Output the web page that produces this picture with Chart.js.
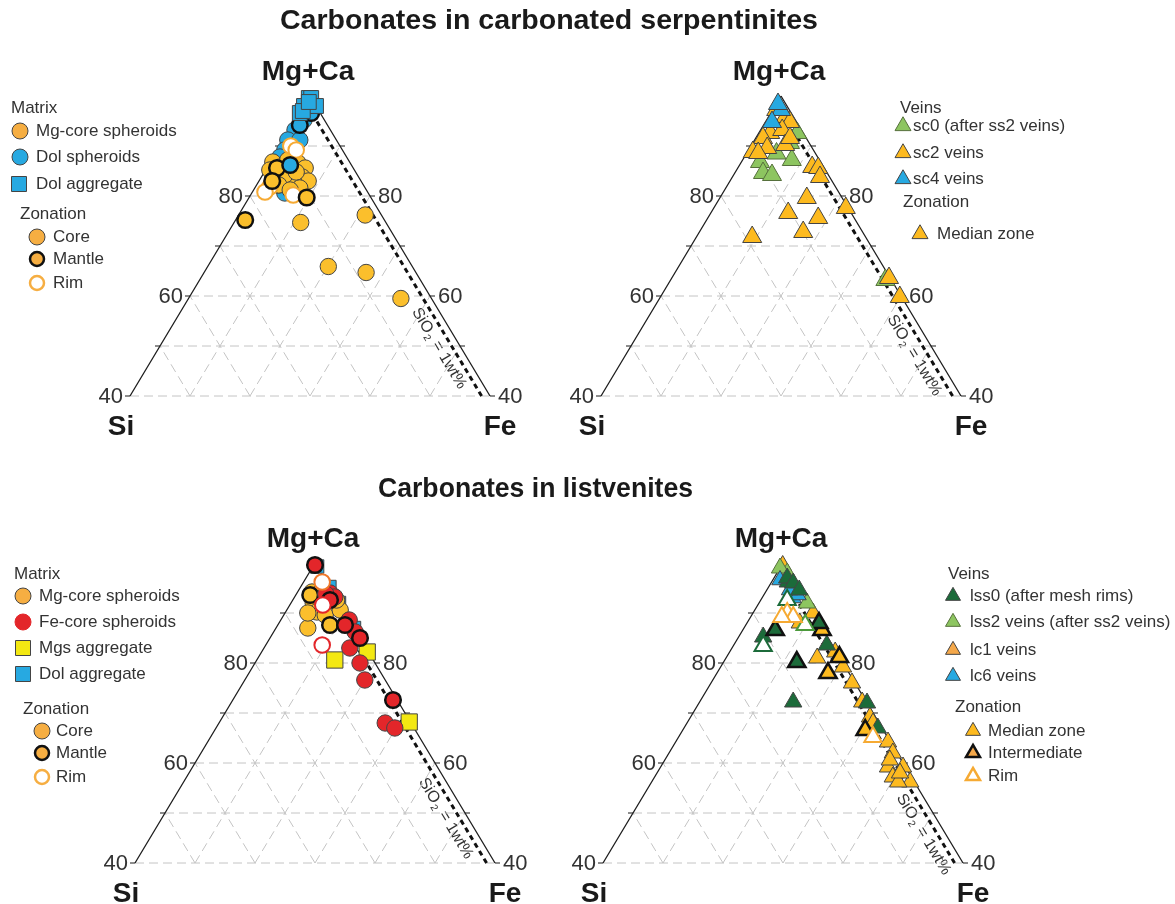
<!DOCTYPE html>
<html><head><meta charset="utf-8">
<script src="https://cdn.jsdelivr.net/npm/chart.js@4.4.1/dist/chart.umd.min.js"></script>
<style>
html,body{margin:0;padding:0;background:#fff;}
#wrap{position:relative;width:1175px;height:904px;overflow:hidden;background:#fff}
canvas{position:absolute;left:0;top:0;pointer-events:none}
</style>
</head><body>
<div id="wrap">
<canvas id="c0" width="1175" height="904"></canvas>
<canvas id="c1" width="1175" height="904"></canvas>
<canvas id="c2" width="1175" height="904"></canvas>
<canvas id="c3" width="1175" height="904"></canvas>
</div>
<script>
// ================= DATA : each point = [Mg+Ca, Si, Fe] (%) =================
const gridMgCa = [40, 50, 60, 70, 80, 90];
const gridSiFe = [10, 20, 30, 40, 50];
const tickValues = [40, 50, 60, 70, 80, 90];
const tickLabelValues = [40, 60, 80];
const sio2Si = 1.4;                 // SiO2 = 1 wt% reference line (Si share)
const titles = ['Carbonates in carbonated serpentinites', 'Carbonates in listvenites'];

// --- carbonated serpentinites : matrix ---
const serpMgCoreCore = [[86.8,12.8,0.4],[85.8,12.1,2.1],[86.6,8.7,4.7],[85.6,8.0,6.4],[83.8,9.4,6.8],[83.0,8.8,8.2],[83.2,11.2,5.6],[84.2,12.1,3.7],[85.2,14.1,0.7],[83.2,14.6,2.2],[87.2,10.1,2.7],[84.8,9.9,5.3],[82.2,14.1,3.7],[81.6,10.9,7.5],[81.2,12.7,6.1],[74.7,14.2,11.1],[76.2,2.7,21.1],[65.9,14.0,20.1],[64.7,8.3,27.0],[59.5,5.1,35.4]];
const serpMgCoreMantle = [[85.6,12.7,1.7],[83.0,14.8,2.2],[79.7,10.7,9.6],[75.2,23.2,1.6]];
const serpMgCoreRim = [[81.8,15.8,2.4],[80.8,17.1,2.1],[80.2,12.7,7.1],[90.0,8.2,1.8],[89.2,7.7,3.1]];
const serpDolSphCore = [[93.2,5.9,0.9],[91.2,8.1,0.7],[89.2,9.6,1.2],[87.8,11.1,1.1],[91.2,6.1,2.7],[95.2,3.4,1.4],[80.6,13.9,5.5],[82.2,14.2,3.6]];
const serpDolSphMantle = [[96.6,1.5,1.9],[94.2,4.6,1.2],[86.2,10.2,3.6]];
const serpDolAggregate = [[99.6,0.4,0],[99.6,0,0.4],[98,2,0],[98,0,2],[96.6,3.4,0],[97,2.7,0.3],[98.8,0.8,0.4]];

// --- carbonated serpentinites : veins ---
const serpSc0 = [[86.8,10.1,3.1],[84.6,10.7,4.7],[84.2,9.4,6.4],[87.2,4.6,8.2],[90.6,3.2,6.2],[92.6,1.0,6.4],[63.2,1.0,35.8],[88.5,6.5,5.0]];
const serpSc2 = [[95.8,1.4,2.8],[94.8,1.1,4.1],[92.6,5.5,1.9],[91.6,7.2,1.2],[93.2,3.2,3.6],[90.2,4.2,5.6],[89.6,7.5,2.9],[88.8,10.3,0.9],[88.6,9.5,1.9],[91.6,2.7,5.7],[85.8,1.9,12.3],[85.6,1.0,13.4],[83.8,1.6,14.6],[79.6,5.9,14.5],[76.6,10.5,12.9],[75.6,6.0,18.4],[72.8,9.9,17.3],[71.8,18.9,9.3],[77.6,0.4,22.0],[63.6,0.2,36.2],[59.8,0.3,39.9],[97.2,2.2,0.6]];
const serpSc4 = [[97.2,1.4,1.4],[94.8,4.1,1.1],[98.4,1.3,0.3]];

// --- listvenites : matrix ---
const listMgCoreCore = [[87.0,7.7,5.3],[94.2,3.4,2.4],[92.0,4.3,3.7],[90.2,4.6,5.2],[89.6,3.5,6.9],[90.6,0.5,8.9],[92.6,0.1,7.3],[90.0,6.2,3.8],[94.0,2.2,3.8]];
const listMgCoreMantle = [[93.6,4.0,2.4],[87.6,3.7,8.7],[93.2,1.4,5.4]];
const listMgCoreRim = [[96.2,0.7,3.1]];
const listFeCoreCore = [[94.0,0.5,5.5],[93.2,0.1,6.7],[88.6,0,11.4],[86.2,0.2,13.6],[83.0,2.7,14.3],[80.0,2.5,17.5],[76.6,3.4,20.0],[68.0,4.3,27.7],[67.0,3.2,29.8],[93.8,1.3,4.9]];
const listFeCoreMantle = [[99.6,0.2,0.2],[87.6,1.2,11.2],[85.0,0,15.0],[72.6,0.7,26.7],[92.6,1.2,6.2]];
const listFeCoreRim = [[83.6,7.0,9.4],[91.6,2.9,5.5]];
const listMgsAggregate = [[80.6,6.4,13.0],[82.2,0.2,17.6],[68.2,0.2,31.6]];
const listDolAggregate = [[99.3,0,0.7],[95.2,0,4.8],[92,0,8],[87,0,13]];

// --- listvenites : veins ---
const listLss0Core = [[96.2,1.1,2.7],[72.2,12.2,15.6],[83.6,0.9,15.5],[72.0,0,28.0],[67.0,0.7,32.3],[97.0,0.8,2.2],[85.2,10.7,4.1],[96.0,0.3,3.7],[94.6,0,5.4]];
const listLss0Mantle = [[86.6,8.0,5.4],[80.2,7.6,12.2],[88.0,0,12.0]];
const listLss0Rim = [[83.4,11.6,5.0],[92.6,3.0,4.4]];
const listLss2Core = [[98.0,0.3,1.7],[92.0,0,8.0],[99.0,1.0,0]];
const listLss2Rim = [[87.6,2.5,9.9]];
const listLc6 = [[93.0,1.8,5.2],[93.6,0.7,5.7],[96.6,2.2,1.2],[94.6,1.6,3.8]];
const listLc1Median = [[81.0,3.8,15.2],[82.2,0.2,17.6],[79.2,0.4,20.4],[76.0,0.5,23.5],[72.2,0.7,27.1],[69.2,0.9,29.9],[64.2,0.4,35.4],[62.0,0.7,37.3],[59.2,0.4,40.4],[59.2,2.9,37.9],[57.2,3.1,39.7],[56.2,0.7,43.1],[56.2,2.7,41.1],[68.0,1.0,31.0],[88.0,3.2,8.8],[90.0,0,10.0],[60.6,1.9,37.5],[58.0,1.5,40.5],[99.5,0.3,0.2]];
const listLc1Intermediate = [[78.0,3.5,18.5],[66.6,3.0,30.4],[81.2,0,18.8],[86.6,0.2,13.2]];
const listLc1Rim = [[90.0,4.3,5.7],[89.2,3.7,7.1],[89.2,5.6,5.2],[65.2,2.4,32.4]];

// ================= STYLE =================
const FONT = '"Liberation Sans", Arial, Helvetica, sans-serif';
const TXT = '#333333';
const YEL = '#FBBF2C', LEGY = '#F6AE42', RIMC = '#F6AA33';
const BLUE = '#27A9E1', RED = '#E3262A', LEMON = '#F3E812';
const DKG = '#1C6B3A', LTG = '#8DC560', GOLD = '#FDBA1F', ORNG = '#F5A84A';
const THIN = '#444444', BLK = '#111111';

function toXY(p) { const t = p[0] + p[1] + p[2]; return { x: (p[2] - p[1]) * 100 / t, y: p[0] * 100 / t }; }

function markers(pts, shape, r, fill, stroke, lw, order) {
  return { data: pts.map(toXY), showLine: false, pointStyle: shape, pointRadius: r, pointHoverRadius: r,
    backgroundColor: fill, borderColor: stroke, pointBackgroundColor: fill, pointBorderColor: stroke,
    borderWidth: lw, pointBorderWidth: lw, pointHoverBorderWidth: lw, order: order, clip: false };
}
function line(pts, color, width, dash, order) {
  return { data: pts.map(toXY), showLine: true, pointRadius: 0, pointHoverRadius: 0, borderColor: color,
    borderWidth: width, borderDash: dash, fill: false, tension: 0, order: order, clip: false };
}
function frame() {
  const ds = [];
  gridMgCa.forEach(k => ds.push(line([[k, 100 - k, 0], [k, 0, 100 - k]], '#c4c4c4', 1, [9, 5], 1000)));
  gridSiFe.forEach(k => {
    ds.push(line([[40, 60 - k, k], [100 - k, 0, k]], '#c4c4c4', 1, [9, 5], 1000));
    ds.push(line([[40, k, 60 - k], [100 - k, k, 0]], '#c4c4c4', 1, [9, 5], 1000));
  });
  ds.push(line([[40, 60, 0], [100, 0, 0]], '#1a1a1a', 1.3, [], 900));
  ds.push(line([[40, 0, 60], [100, 0, 0]], '#1a1a1a', 1.3, [], 900));
  ds.push(line([[40, sio2Si, 60 - sio2Si], [96, sio2Si, 4 - sio2Si]], '#111', 3, [5, 4], 800));
  return ds;
}

function drawMarker(ctx, shape, x, y, s, fill, stroke, lw) {
  ctx.save(); ctx.beginPath();
  if (shape === 'circle') ctx.arc(x, y, s / 2, 0, Math.PI * 2);
  else if (shape === 'square') ctx.rect(x - s / 2, y - s / 2, s, s);
  else { const h = s / Math.sqrt(3); ctx.moveTo(x, y - h); ctx.lineTo(x + s / 2, y + h / 2); ctx.lineTo(x - s / 2, y + h / 2); ctx.closePath(); }
  ctx.fillStyle = fill; ctx.fill(); ctx.lineWidth = lw; ctx.strokeStyle = stroke; ctx.lineJoin = 'miter'; ctx.stroke();
  ctx.restore();
}

function fitTitle(ctx, text, cx, cy, width, size) {
  ctx.save(); ctx.font = 'bold ' + size + 'px ' + FONT;
  const w = ctx.measureText(text).width;
  ctx.translate(cx, cy); ctx.scale(width / w, 1);
  ctx.fillStyle = '#1a1a1a'; ctx.textAlign = 'center'; ctx.textBaseline = 'middle';
  ctx.fillText(text, 0, 0); ctx.restore();
}

const ternaryPlugin = {
  id: 'ternary',
  beforeDatasetsDraw(chart, args, o) {
    const ctx = chart.ctx, xs = chart.scales.x, ys = chart.scales.y;
    const P = p => { const q = toXY(p); return [xs.getPixelForValue(q.x), ys.getPixelForValue(q.y)]; };
    ctx.save();
    ctx.strokeStyle = '#1a1a1a'; ctx.lineWidth = 1;
    tickValues.forEach(v => {
      const l = P([v, 100 - v, 0]), r = P([v, 0, 100 - v]);
      ctx.beginPath(); ctx.moveTo(l[0] - 5, l[1]); ctx.lineTo(l[0], l[1]); ctx.stroke();
      ctx.beginPath(); ctx.moveTo(r[0], r[1]); ctx.lineTo(r[0] + 5, r[1]); ctx.stroke();
    });
    ctx.fillStyle = TXT; ctx.font = '22px ' + FONT; ctx.textBaseline = 'middle';
    tickLabelValues.forEach(v => {
      const l = P([v, 100 - v, 0]), r = P([v, 0, 100 - v]);
      ctx.textAlign = 'right'; ctx.fillText(String(v), l[0] - 7, l[1] + 1);
      ctx.textAlign = 'left'; ctx.fillText(String(v), r[0] + 8, r[1] + 1);
    });
    const apex = P([100, 0, 0]), bl = P([40, 60, 0]), br = P([40, 0, 60]);
    ctx.fillStyle = '#1a1a1a'; ctx.font = 'bold 28px ' + FONT; ctx.textBaseline = 'alphabetic'; ctx.textAlign = 'center';
    ctx.fillText('Mg+Ca', apex[0] - 2, apex[1] - 16);
    ctx.fillText('Si', bl[0] - 9, bl[1] + 39);
    ctx.fillText('Fe', br[0] + 10, br[1] + 39);
    const s = P([o.sio2A, sio2Si, 100 - o.sio2A - sio2Si]), e = P([40, sio2Si, 60 - sio2Si]);
    const ang = Math.atan2(e[1] - s[1], e[0] - s[0]);
    ctx.translate(s[0], s[1]); ctx.rotate(ang); ctx.translate(0, 4);
    ctx.fillStyle = TXT; ctx.textAlign = 'left'; ctx.textBaseline = 'top';
    ctx.font = '16px ' + FONT; let x = 0;
    ctx.fillText('SiO', x, 0); x += ctx.measureText('SiO').width + 1;
    ctx.font = '10px ' + FONT; ctx.fillText('2', x, 8); x += ctx.measureText('2').width + 1;
    ctx.font = '16px ' + FONT; ctx.fillText(' = 1wt%', x, 0);
    ctx.restore();
  },
  afterDraw(chart, args, o) {
    const ctx = chart.ctx;
    ctx.save();
    (o.legend || []).forEach(it => {
      ctx.font = '17px ' + FONT; ctx.fillStyle = TXT; ctx.textAlign = 'left'; ctx.textBaseline = 'middle';
      if (it.head) { ctx.fillText(it.head, it.x, it.y); return; }
      drawMarker(ctx, it.shape, it.mx, it.my, it.size, it.fill, it.stroke, it.lw);
      ctx.font = '17px ' + FONT; ctx.fillStyle = TXT; ctx.textAlign = 'left'; ctx.textBaseline = 'middle';
      ctx.fillText(it.text, it.tx, it.my);
    });
    (o.titles || []).forEach(t => fitTitle(ctx, t.text, t.cx, t.cy, t.w, 28));
    ctx.restore();
  }
};

function L(text, shape, mx, my, tx, size, fill, stroke, lw) { return { text, shape, mx, my, tx, size, fill, stroke, lw }; }

const panels = [
  { id: 'c0', apex: [310, 96], sio2A: 58.6,
    titles: [{ text: titles[0], cx: 549, cy: 21, w: 538 }, { text: titles[1], cx: 535.5, cy: 489, w: 315 }],
    sets: [
      markers(serpDolAggregate, 'rect', 10.5, BLUE, THIN, 1, 1),
      markers(serpDolSphMantle, 'circle', 7.8, BLUE, BLK, 2.5, 2),
      markers(serpMgCoreMantle, 'circle', 7.8, YEL, BLK, 2.5, 3),
      markers(serpMgCoreRim, 'circle', 7.8, '#ffffff', RIMC, 2, 4),
      markers(serpMgCoreCore, 'circle', 8.2, YEL, THIN, 1, 5),
      markers(serpDolSphCore, 'circle', 8.2, BLUE, THIN, 1, 6)
    ],
    legend: [
      { head: 'Matrix', x: 11, y: 108 },
      L('Mg-core spheroids', 'circle', 20, 131, 36, 16, LEGY, THIN, 1),
      L('Dol spheroids', 'circle', 20, 157, 36, 16, BLUE, THIN, 1),
      L('Dol aggregate', 'square', 19, 184, 36, 15, BLUE, THIN, 1),
      { head: 'Zonation', x: 20, y: 214 },
      L('Core', 'circle', 37, 237, 53, 16, LEGY, THIN, 1),
      L('Mantle', 'circle', 37, 259, 53, 14, LEGY, BLK, 2.5),
      L('Rim', 'circle', 37, 283, 53, 14, '#ffffff', LEGY, 2.5)
    ] },
  { id: 'c1', apex: [781, 96], sio2A: 57.2,
    sets: [
      markers(serpSc4, 'triangle', 11, BLUE, THIN, 1, 1),
      markers(serpSc2, 'triangle', 11, GOLD, THIN, 1, 2),
      markers(serpSc0, 'triangle', 11, LTG, '#56703c', 1, 3)
    ],
    legend: [
      { head: 'Veins', x: 900, y: 108 },
      L('sc0 (after ss2 veins)', 'triangle', 903, 126, 913, 16, LTG, '#56703c', 1),
      L('sc2 veins', 'triangle', 903, 153, 913, 16, GOLD, THIN, 1),
      L('sc4 veins', 'triangle', 903, 179, 913, 16, BLUE, THIN, 1),
      { head: 'Zonation', x: 903, y: 202 },
      L('Median zone', 'triangle', 920, 234, 937, 16, GOLD, THIN, 1)
    ] },
  { id: 'c2', apex: [315, 563], sio2A: 58.0,
    sets: [
      markers(listFeCoreRim, 'circle', 7.8, '#ffffff', RED, 2, 1),
      markers(listMgCoreRim, 'circle', 7.8, '#ffffff', '#F0782A', 2, 2),
      markers(listFeCoreMantle, 'circle', 7.8, RED, BLK, 2.5, 3),
      markers(listFeCoreCore, 'circle', 8.2, RED, THIN, 1, 4),
      markers(listMgCoreMantle, 'circle', 7.8, YEL, BLK, 2.5, 5),
      markers(listMgCoreCore, 'circle', 8.2, YEL, THIN, 1, 6),
      markers(listMgsAggregate, 'rect', 11.5, LEMON, THIN, 1, 7),
      markers(listDolAggregate, 'rect', 9.5, BLUE, THIN, 1, 8)
    ],
    legend: [
      { head: 'Matrix', x: 14, y: 574 },
      L('Mg-core spheroids', 'circle', 23, 596, 39, 16, LEGY, THIN, 1),
      L('Fe-core spheroids', 'circle', 23, 622, 39, 16, RED, RED, 1),
      L('Mgs aggregate', 'square', 23, 648, 39, 15, LEMON, THIN, 1),
      L('Dol aggregate', 'square', 23, 674, 39, 15, BLUE, THIN, 1),
      { head: 'Zonation', x: 23, y: 709 },
      L('Core', 'circle', 42, 731, 56, 16, LEGY, THIN, 1),
      L('Mantle', 'circle', 42, 753, 56, 14, LEGY, BLK, 2.5),
      L('Rim', 'circle', 42, 777, 56, 14, '#ffffff', LEGY, 2.5)
    ] },
  { id: 'c3', apex: [783, 563], sio2A: 54.8,
    sets: [
      markers(listLc1Rim, 'triangle', 10, '#ffffff', RIMC, 2, 1),
      markers(listLss2Rim, 'triangle', 10, '#ffffff', '#4c9a3c', 2, 2),
      markers(listLss0Rim, 'triangle', 10, '#ffffff', DKG, 2, 3),
      markers(listLss0Mantle, 'triangle', 10, DKG, BLK, 2.5, 4),
      markers(listLc1Intermediate, 'triangle', 10, GOLD, BLK, 2.5, 5),
      markers(listLss0Core, 'triangle', 10, DKG, THIN, 1, 6),
      markers(listLc6, 'triangle', 9.5, BLUE, THIN, 1, 7),
      markers(listLss2Core, 'triangle', 10, LTG, '#56703c', 1, 8),
      markers(listLc1Median, 'triangle', 10, GOLD, THIN, 1, 9)
    ],
    legend: [
      { head: 'Veins', x: 948, y: 574 },
      L('lss0 (after mesh rims)', 'triangle', 953, 596, 970, 15, DKG, THIN, 1),
      L('lss2 veins (after ss2 veins)', 'triangle', 953, 622, 970, 15, LTG, '#56703c', 1),
      L('lc1 veins', 'triangle', 953, 650, 970, 15, ORNG, THIN, 1),
      L('lc6 veins', 'triangle', 953, 676, 970, 15, BLUE, THIN, 1),
      { head: 'Zonation', x: 955, y: 707 },
      L('Median zone', 'triangle', 973, 731, 988, 15, GOLD, THIN, 1),
      L('Intermediate', 'triangle', 973, 753, 988, 14, ORNG, BLK, 2.5),
      L('Rim', 'triangle', 973, 776, 988, 14, '#ffffff', RIMC, 2.5)
    ] }
];

const W = 1175, H = 904, HALF = 180, TALL = 300;
panels.forEach(p => {
  new Chart(document.getElementById(p.id), {
    type: 'scatter',
    data: { datasets: p.sets.concat(frame()) },
    options: {
      responsive: false, animation: false, events: [],
      layout: { padding: { left: p.apex[0] - HALF, right: W - (p.apex[0] + HALF), top: p.apex[1], bottom: H - (p.apex[1] + TALL) } },
      scales: {
        x: { type: 'linear', min: -60, max: 60, display: false },
        y: { type: 'linear', min: 40, max: 100, display: false }
      },
      plugins: {
        legend: { display: false }, tooltip: { enabled: false }, title: { display: false },
        ternary: { sio2A: p.sio2A, legend: p.legend, titles: p.titles || [] }
      }
    },
    plugins: [ternaryPlugin]
  });
});
</script>
</body></html>
